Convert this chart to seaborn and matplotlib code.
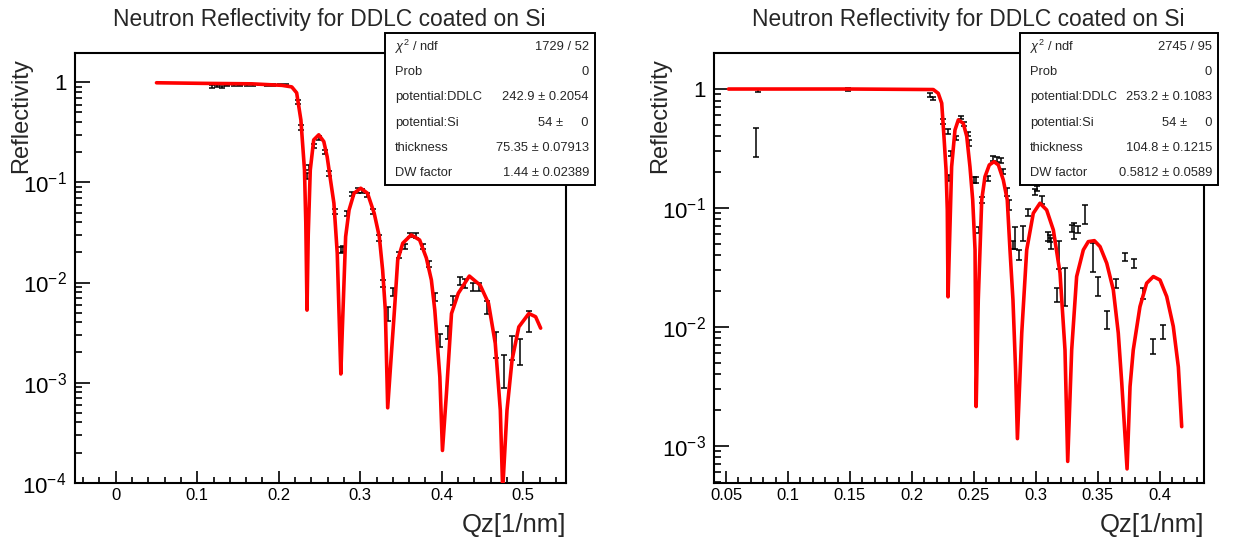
import numpy as np
import pandas as pd
import matplotlib
matplotlib.use("Agg")
import matplotlib.pyplot as plt
from matplotlib.patches import Rectangle
from matplotlib.ticker import FixedLocator, FixedFormatter, LogLocator, MultipleLocator, NullFormatter
import seaborn as sns

# ---------------------------------------------------------------- data
# 75 nm DDLC film: measured reflectivity with errors
q75 = [0.118, 0.124, 0.130, 0.137, 0.145, 0.153, 0.161, 0.169, 0.177, 0.185, 0.193, 0.201, 0.209,
       0.2235, 0.2272, 0.2351, 0.2368, 0.2438, 0.2499, 0.2565, 0.2615, 0.2689, 0.2758,
       0.2792, 0.2842, 0.2903, 0.2978, 0.3027, 0.3089, 0.3151, 0.3225, 0.3283, 0.3337,
       0.3398, 0.3480, 0.3550, 0.3612, 0.3687, 0.3770, 0.3844, 0.3915, 0.3984, 0.4079,
       0.4141, 0.4224, 0.4286, 0.4385, 0.4459, 0.4554, 0.4665, 0.4760, 0.4863, 0.4958, 0.5069]
r75 = [0.905, 0.92, 0.90, 0.93, 0.935, 0.93, 0.94, 0.945, 0.95, 0.94, 0.945, 0.95, 0.94,
       0.64, 0.356, 0.116, 0.14, 0.232, 0.28, 0.203, 0.122, 0.051, 0.0211,
       0.0216, 0.049, 0.0768, 0.0832, 0.082, 0.075, 0.051, 0.0278, 0.0098, 0.0049,
       0.0081, 0.0188, 0.0228, 0.0299, 0.0294, 0.0229, 0.0153, 0.0072, 0.00266, 0.0032,
       0.0067, 0.0104, 0.0099, 0.0091, 0.0091, 0.0057, 0.00247, 0.00139, 0.0023, 0.0021, 0.0042]
e75 = [0.03, 0.025, 0.025, 0.02, 0.02, 0.02, 0.02, 0.02, 0.02, 0.02, 0.02, 0.02, 0.02,
       0.03, 0.02, 0.008, 0.008, 0.012, 0.014, 0.01, 0.007, 0.003, 0.0015,
       0.0015, 0.003, 0.004, 0.004, 0.004, 0.004, 0.003, 0.0018, 0.0008, 0.0008,
       0.0008, 0.0012, 0.0013, 0.0015, 0.0015, 0.0013, 0.001, 0.0007, 0.0004, 0.0005,
       0.0007, 0.001, 0.001, 0.0009, 0.0009, 0.0008, 0.0007, 0.0005, 0.0006, 0.0006, 0.001]

# 75 nm DDLC film: fitted reflectivity curve
fit_q75 = [0.050, 0.105, 0.167, 0.204, 0.216, 0.222, 0.2272, 0.2316, 0.2332, 0.2347, 0.2362,
           0.2387, 0.2429, 0.2491, 0.2553, 0.2594, 0.2635, 0.2677, 0.2718, 0.2762, 0.2780,
           0.2821, 0.2863, 0.2924, 0.3006, 0.3089, 0.3172, 0.3234, 0.3275, 0.3308, 0.3337,
           0.3377, 0.3420, 0.3460, 0.3522, 0.3625, 0.3729, 0.3811, 0.3873, 0.3915, 0.3977,
           0.4009, 0.4058, 0.4120, 0.4203, 0.4339, 0.4472, 0.4574, 0.4657, 0.4719, 0.4748,
           0.4801, 0.4863, 0.4946, 0.5069, 0.5152, 0.5214]
fit_r75 = [0.99, 0.977, 0.966, 0.933, 0.90, 0.785, 0.42, 0.133, 0.04, 0.0053, 0.03,
           0.133, 0.266, 0.299, 0.256, 0.181, 0.106, 0.062, 0.0196, 0.00122, 0.00335,
           0.0287, 0.053, 0.078, 0.0875, 0.078, 0.049, 0.0287, 0.0133, 0.0053, 0.00056,
           0.00168, 0.0053, 0.0168, 0.0247, 0.0299, 0.0266, 0.0176, 0.0106, 0.0053, 0.00114,
           0.00021, 0.00078, 0.0049, 0.0078, 0.0116, 0.0094, 0.0062, 0.00247, 0.00053, 0.000084,
           0.00053, 0.00168, 0.0036, 0.0049, 0.00455, 0.0035]

# 105 nm DDLC film: measured reflectivity with errors
q105 = [0.0742, 0.0761, 0.1487, 0.2146, 0.2173, 0.2249, 0.2289, 0.2302, 0.2316, 0.2356,
        0.2397, 0.2423, 0.2451, 0.2464, 0.2502, 0.2518, 0.2544, 0.2564, 0.2617, 0.2657,
        0.2690, 0.2717, 0.2738, 0.2765, 0.2787, 0.2819, 0.2833, 0.2868, 0.2895, 0.2940,
        0.2994, 0.3008, 0.3053, 0.3096, 0.3115, 0.3124, 0.3169, 0.3189, 0.3236, 0.3289,
        0.3309, 0.3342, 0.3397, 0.3460, 0.3505, 0.3578, 0.3648, 0.3723, 0.3796, 0.3868,
        0.3949, 0.4030]
r105 = [0.37, 0.97, 0.99, 0.89, 0.835, 0.53, 0.44, 0.178, 0.288, 0.385,
        0.578, 0.508, 0.419, 0.354, 0.172, 0.172, 0.0653, 0.117, 0.178, 0.262,
        0.257, 0.25, 0.202, 0.137, 0.106, 0.0489, 0.0574, 0.0403, 0.0613, 0.0913,
        0.137, 0.146, 0.117, 0.0574, 0.0556, 0.0505, 0.0186, 0.0416, 0.023, 0.0675,
        0.0653, 0.066, 0.089, 0.040, 0.0221, 0.0116, 0.0233, 0.039, 0.0343, 0.0192,
        0.00696, 0.0091]
e105 = [0.10, 0.035, 0.03, 0.03, 0.03, 0.025, 0.02, 0.01, 0.012, 0.015,
        0.02, 0.02, 0.018, 0.02, 0.01, 0.01, 0.004, 0.007, 0.009, 0.012,
        0.012, 0.012, 0.01, 0.01, 0.01, 0.004, 0.012, 0.004, 0.009, 0.006,
        0.008, 0.008, 0.008, 0.005, 0.004, 0.005, 0.0025, 0.011, 0.008, 0.005,
        0.01, 0.005, 0.016, 0.011, 0.004, 0.002, 0.002, 0.003, 0.003, 0.002,
        0.001, 0.0012]

# 105 nm DDLC film: fitted reflectivity curve
fit_q105 = [0.052, 0.150, 0.2173, 0.2213, 0.2241, 0.2259, 0.2276, 0.2286, 0.2292,
            0.2321, 0.2348, 0.2375, 0.2415, 0.2443, 0.2469, 0.2491, 0.2510, 0.2519,
            0.2536, 0.2564, 0.2590, 0.2625, 0.2663, 0.2698, 0.2738, 0.2770, 0.2792,
            0.2816, 0.2837, 0.2852, 0.2887, 0.2927, 0.2980, 0.3034, 0.3088, 0.3142,
            0.3196, 0.3236, 0.3258, 0.3290, 0.3330, 0.3384, 0.3424, 0.3473, 0.3519,
            0.3573, 0.3626, 0.3666, 0.3694, 0.3737, 0.3761, 0.3787, 0.3841, 0.3895,
            0.3949, 0.4003, 0.4057, 0.4110, 0.4151, 0.4178]
fit_r105 = [1.0, 1.0, 0.99, 0.92, 0.76, 0.40, 0.209, 0.096, 0.0179,
            0.222, 0.452, 0.55, 0.515, 0.40, 0.222, 0.117, 0.0444, 0.00214,
            0.0169, 0.117, 0.183, 0.23, 0.245, 0.23, 0.172, 0.117, 0.0444,
            0.0169, 0.0044, 0.00115, 0.0089, 0.0444, 0.0902, 0.1096, 0.0962, 0.0653,
            0.0283, 0.0064, 0.00074, 0.0064, 0.0265, 0.0444, 0.0521, 0.0531, 0.0473,
            0.0343, 0.0205, 0.0089, 0.0034, 0.00064, 0.00315, 0.0064, 0.0148, 0.0233,
            0.0265, 0.0248, 0.018, 0.0101, 0.0046, 0.00145]

# fit statistics
stat_names = [r"$\chi^{2}$ / ndf", "Prob", "potential:DDLC", "potential:Si", "thickness", "DW factor"]
stat_vals75 = ["1729 / 52", "0", "242.9 \u00b1 0.2054", "54 \u00b1     0", "75.35 \u00b1 0.07913", "1.44 \u00b1 0.02389"]
stat_vals105 = ["2745 / 95", "0", "253.2 \u00b1 0.1083", "54 \u00b1     0", "104.8 \u00b1 0.1215", "0.5812 \u00b1 0.0589"]

# axis ticks
x_ticks75 = [0, 0.1, 0.2, 0.3, 0.4, 0.5]
x_labels75 = ["0", "0.1", "0.2", "0.3", "0.4", "0.5"]
x_ticks105 = [0.05, 0.1, 0.15, 0.2, 0.25, 0.3, 0.35, 0.4]
x_labels105 = ["0.05", "0.1", "0.15", "0.2", "0.25", "0.3", "0.35", "0.4"]
y_ticks75 = [1e-4, 1e-3, 1e-2, 1e-1, 1]
y_labels75 = [r"$\mathregular{10^{-4}}$", r"$\mathregular{10^{-3}}$", r"$\mathregular{10^{-2}}$",
              r"$\mathregular{10^{-1}}$", "1"]
y_ticks105 = [1e-3, 1e-2, 1e-1, 1]
y_labels105 = [r"$\mathregular{10^{-3}}$", r"$\mathregular{10^{-2}}$", r"$\mathregular{10^{-1}}$", "1"]

title = "Neutron Reflectivity for DDLC coated on Si"

# ---------------------------------------------------------------- style
sns.set_theme(style="white")
plt.rcParams["font.family"] = ["Liberation Sans", "DejaVu Sans"]
plt.rcParams["mathtext.fontset"] = "custom"
plt.rcParams["mathtext.rm"] = "Liberation Sans"
plt.rcParams["mathtext.it"] = "Liberation Sans:italic"
plt.rcParams["mathtext.bf"] = "Liberation Sans:bold"

W, H = 1248, 540
fig = plt.figure(figsize=(W / 100, H / 100), dpi=100)


def fx(px):
    return px / W


def fy(py):
    return 1 - py / H


def panel(frame, xlim, ylim, xt, xl, xminor, yt, yl, q, r, e, fq, fr, box, vals):
    x0, x1, y0, y1 = frame
    ax = fig.add_axes([fx(x0), fy(y1), fx(x1 - x0), (y1 - y0) / H])
    ax.set_yscale("log")

    ax.errorbar(q, r, yerr=e, fmt="none", ecolor="black", elinewidth=1.1,
                capsize=2.2, capthick=1.1, zorder=2)
    fit = pd.DataFrame({"q": fq, "R": fr})
    sns.lineplot(data=fit, x="q", y="R", ax=ax, color="#ff0000", linewidth=2.6,
                 sort=False, estimator=None, zorder=3)

    ax.set_xlim(*xlim)
    ax.set_ylim(*ylim)
    ax.set_xlabel("")
    ax.set_ylabel("")

    ax.xaxis.set_major_locator(FixedLocator(xt))
    ax.xaxis.set_major_formatter(FixedFormatter(xl))
    ax.xaxis.set_minor_locator(MultipleLocator(xminor))
    ax.yaxis.set_major_locator(FixedLocator(yt))
    ax.yaxis.set_major_formatter(FixedFormatter(yl))
    ax.yaxis.set_minor_locator(LogLocator(base=10, subs=np.arange(2, 10), numticks=40))
    ax.yaxis.set_minor_formatter(NullFormatter())

    ax.tick_params(axis="both", which="both", direction="in", bottom=True, left=True,
                   top=False, right=False, colors="black", width=1.2)
    ax.tick_params(axis="x", which="major", length=9, labelsize=12, pad=4)
    ax.tick_params(axis="x", which="minor", length=4.3)
    ax.tick_params(axis="y", which="major", length=11, labelsize=16, pad=6)
    ax.tick_params(axis="y", which="minor", length=5)
    for s in ax.spines.values():
        s.set_color("black")
        s.set_linewidth(1.5)
        s.set_visible(True)

    # titles and axis titles
    fig.text(fx((x0 + x1) / 2 + 9), fy(8), title, ha="center", va="top", fontsize=16.4)
    fig.text(fx(x0 - 54), fy(58), "Reflectivity", rotation=90, ha="center", va="top", fontsize=17)
    fig.text(fx(x1), fy(537), "Qz[1/nm]", ha="right", va="bottom", fontsize=18.5)

    # statistics box
    bx0, bx1, by0, by1 = box
    fig.add_artist(Rectangle((fx(bx0), fy(by1)), fx(bx1 - bx0), (by1 - by0) / H,
                             transform=fig.transFigure, facecolor="white",
                             edgecolor="black", linewidth=1.4, zorder=5))
    step = (by1 - by0) / len(stat_names)
    for i, (n, v) in enumerate(zip(stat_names, vals)):
        yc = by0 + step * (i + 0.5) + 1
        fig.text(fx(bx0 + 10), fy(yc), n, ha="left", va="center", fontsize=9.3, zorder=6)
        fig.text(fx(bx1 - 6), fy(yc), v, ha="right", va="center", fontsize=9.3, zorder=6)
    return ax


panel((75, 566, 52.7, 482.7), (-0.05, 0.5525), (1e-4, 1.977),
      x_ticks75, x_labels75, 0.02, y_ticks75, y_labels75,
      q75, r75, e75, fit_q75, fit_r75, (385, 595, 33, 185), stat_vals75)
panel((714, 1204, 52.7, 482.7), (0.0403, 0.4358), (4.9e-4, 2.02),
      x_ticks105, x_labels105, 0.01, y_ticks105, y_labels105,
      q105, r105, e105, fit_q105, fit_r105, (1020, 1218, 33, 185), stat_vals105)

fig.savefig("out.png", dpi=100)
